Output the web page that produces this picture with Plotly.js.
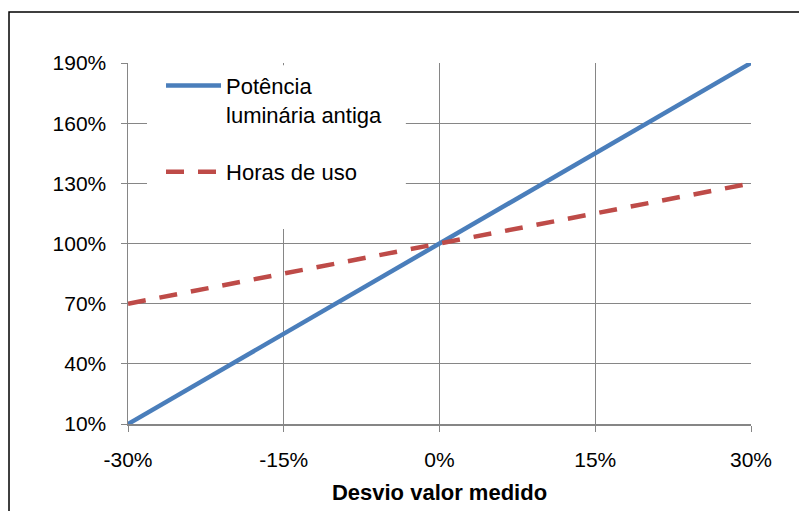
<!DOCTYPE html>
<html>
<head>
<meta charset="utf-8">
<script src="https://cdn.plot.ly/plotly-3.0.1.min.js"></script>
<style>html,body{margin:0;padding:0;background:#fff;}#chart{width:799px;height:511px;}</style>
</head>
<body>
<div id="chart"></div>
<script>
// Data
const desvio = [-30, -15, 0, 15, 30];            // x: Desvio valor medido (%)
const potencia = [10, 55, 100, 145, 190];         // Potência luminária antiga (%)
const horas = [70, 85, 100, 115, 130];            // Horas de uso (%)
const xTicks = [-30, -15, 0, 15, 30];
const yTicks = [10, 40, 70, 100, 130, 160, 190];
const seriesNames = ['Potência<br>luminária antiga', 'Horas de uso'];

const FONT = 'Liberation Sans, Arial, sans-serif';
const GRID = '#868686';

const traces = [
  {x: desvio, y: potencia, name: seriesNames[0], type: 'scatter', mode: 'lines',
   legendgroup: 'a', line: {color: '#4A7EBB', width: 4.5}},
  {x: desvio, y: horas, name: seriesNames[1], type: 'scatter', mode: 'lines',
   legendgroup: 'b', line: {color: '#BE4B48', width: 4.5, dash: '18px,14px'}}
];

const layout = {
  width: 799, height: 511,
  margin: {l: 128, r: 48, t: 63, b: 87},
  paper_bgcolor: '#fff', plot_bgcolor: '#fff',
  font: {family: FONT, size: 21, color: '#000'},
  showlegend: true,
  legend: {
    x: 0.053, y: 0.995, xanchor: 'left', yanchor: 'top',
    bgcolor: 'rgba(0,0,0,0)', borderwidth: 0,
    font: {family: FONT, size: 22, color: '#000'},
    valign: 'top', tracegroupgap: 26, traceorder: 'grouped',
    itemwidth: 55
  },
  xaxis: {
    range: [-30, 30], tickvals: xTicks, ticktext: xTicks.map(v => v + '%'),
    showgrid: true, gridcolor: GRID, gridwidth: 1,
    showline: true, linecolor: GRID, linewidth: 1.5,
    ticks: 'outside', ticklen: 6, tickcolor: GRID,
    zeroline: false, fixedrange: true, ticklabelstandoff: 10,
    tickfont: {family: FONT, size: 21},
    title: {text: '<b>Desvio valor medido</b>', font: {family: FONT, size: 22}, standoff: 15}
  },
  yaxis: {
    range: [10, 190], tickvals: yTicks, ticktext: yTicks.map(v => v + '%'),
    showgrid: true, gridcolor: GRID, gridwidth: 1,
    showline: true, linecolor: GRID, linewidth: 1.5,
    ticks: 'outside', ticklen: 6, tickcolor: GRID,
    zeroline: false, fixedrange: true, ticklabelstandoff: 10,
    tickfont: {family: FONT, size: 21}
  },
  shapes: [
    {type: 'rect', xref: 'paper', yref: 'paper',
     x0: -0.191, x1: 1.2, y0: -0.5, y1: 1.1413,
     line: {color: '#000', width: 1.5}, fillcolor: 'rgba(0,0,0,0)', layer: 'below'},
    {type: 'rect', xref: 'paper', yref: 'paper',
     x0: 0.0305, x1: 0.446, y0: 0.540, y1: 0.994,
     line: {width: 0}, fillcolor: '#fff', layer: 'above'}
  ]
};

Plotly.newPlot('chart', traces, layout, {staticPlot: true, displayModeBar: false});
</script>
</body>
</html>
